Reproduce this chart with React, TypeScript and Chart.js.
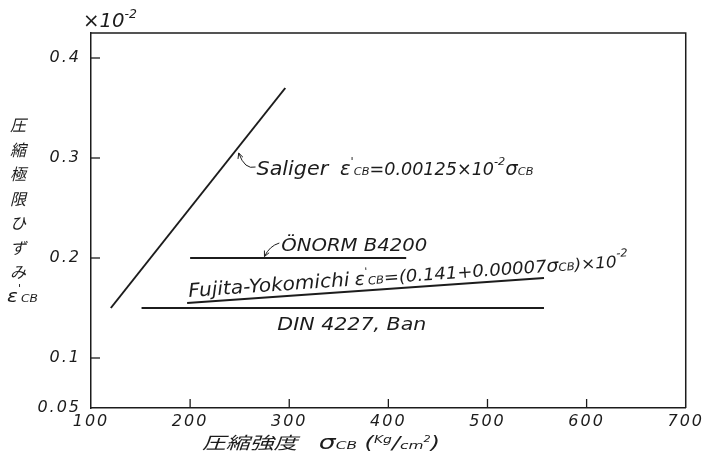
import React, { useEffect, useRef } from "react";
import { Chart, registerables } from "chart.js";

Chart.register(...registerables);

// Axis ranges and ticks
const xMin = 100;
const xMax = 700;
const yMin = 0.05;
const yMax = 0.425;
const xTicks = [100, 200, 300, 400, 500, 600, 700];
const xTickLabels = ["100", "200", "300", "400", "500", "600", "700"];
const yTicks = [0.05, 0.1, 0.2, 0.3, 0.4];
const yTickLabels = ["0.05", "0.1", "0.2", "0.3", "0.4"];

// Ultimate compressive strain (x10^-2) against compressive strength (kg/cm2)
const saligerX = [120, 296];
const saligerY = [0.15, 0.37];
const onormX = [200, 418];
const onormY = [0.2, 0.2];
const fujitaX = [197, 557];
const fujitaY = [0.155, 0.18];
const dinX = [151, 557];
const dinY = [0.15, 0.15];

const HAND = '"DejaVu Sans", sans-serif';
const CJK = '"Noto Sans CJK JP", sans-serif';
const INK = "#1c1c1c";

type Seg = { t: string; s: number; dy?: number; f?: string };

const toPoints = (xs: number[], ys: number[]) => xs.map((x, i) => ({ x, y: ys[i] }));

// Draws a run of mixed-size italic text, stretched to a given width
function drawRich(
  ctx: CanvasRenderingContext2D,
  segs: Seg[],
  x: number,
  y: number,
  width: number,
  angle = 0
) {
  ctx.save();
  (ctx as any).letterSpacing = "0px";
  let natural = 0;
  const widths = segs.map((g) => {
    ctx.font = `italic ${g.s}px ${g.f || HAND}`;
    const w = ctx.measureText(g.t).width;
    natural += w;
    return w;
  });
  ctx.translate(x, y);
  ctx.rotate(angle);
  ctx.scale(width / natural, 1);
  ctx.fillStyle = INK;
  ctx.textBaseline = "alphabetic";
  ctx.textAlign = "left";
  let cx = 0;
  segs.forEach((g, i) => {
    ctx.font = `italic ${g.s}px ${g.f || HAND}`;
    ctx.fillText(g.t, cx, g.dy || 0);
    cx += widths[i];
  });
  ctx.restore();
}

function drawArrow(
  ctx: CanvasRenderingContext2D,
  fx: number,
  fy: number,
  cx: number,
  cy: number,
  tx: number,
  ty: number
) {
  ctx.save();
  ctx.strokeStyle = INK;
  ctx.lineWidth = 1;
  ctx.beginPath();
  ctx.moveTo(fx, fy);
  ctx.quadraticCurveTo(cx, cy, tx, ty);
  ctx.stroke();
  const a = Math.atan2(ty - cy, tx - cx);
  ctx.beginPath();
  ctx.moveTo(tx - 6 * Math.cos(a - 0.45), ty - 6 * Math.sin(a - 0.45));
  ctx.lineTo(tx, ty);
  ctx.lineTo(tx - 6 * Math.cos(a + 0.45), ty - 6 * Math.sin(a + 0.45));
  ctx.stroke();
  ctx.restore();
}

const frameAndLabels = {
  id: "frameAndLabels",
  beforeDraw(chart: any) {
    (chart.ctx as any).letterSpacing = "2px";
  },
  afterDraw(chart: any) {
    const ctx: CanvasRenderingContext2D = chart.ctx;
    (ctx as any).letterSpacing = "0px";
    const { left, right, top, bottom } = chart.chartArea;
    const xs = chart.scales.x;
    const ys = chart.scales.y;
    const px = (v: number) => xs.getPixelForValue(v);
    const py = (v: number) => ys.getPixelForValue(v);

    // top and right frame lines
    ctx.save();
    ctx.strokeStyle = INK;
    ctx.lineWidth = 1.5;
    ctx.beginPath();
    ctx.moveTo(left, top);
    ctx.lineTo(right, top);
    ctx.lineTo(right, bottom);
    ctx.stroke();

    // inward tick marks
    ctx.lineWidth = 1.3;
    xTicks.forEach((v) => {
      if (v === xMin || v === xMax) return;
      ctx.beginPath();
      ctx.moveTo(px(v), bottom);
      ctx.lineTo(px(v), bottom - 9);
      ctx.stroke();
    });
    yTicks.forEach((v) => {
      if (v === yMin) return;
      ctx.beginPath();
      ctx.moveTo(left, py(v));
      ctx.lineTo(left + 9, py(v));
      ctx.stroke();
    });
    ctx.restore();

    // exponent above the y axis
    drawRich(ctx, [{ t: "×10", s: 19 }, { t: "-2", s: 12, dy: -9 }], left - 8, top - 6, 54);

    // Saliger
    drawRich(
      ctx,
      [
        { t: "Saliger", s: 20 },
        { t: "  ", s: 18 },
        { t: "ε", s: 19 },
        { t: "'", s: 11, dy: -10 },
        { t: "CB", s: 11 },
        { t: "=0.00125×10", s: 17 },
        { t: "-2", s: 11, dy: -10 },
        { t: "σ", s: 19 },
        { t: "CB", s: 11 },
      ],
      px(267),
      py(0.283),
      277
    );
    drawArrow(ctx, px(266), py(0.291), px(255), py(0.288), px(249), py(0.305));

    // ÖNORM
    drawRich(ctx, [{ t: "ÖNORM B4200", s: 17 }], px(292), py(0.207), 146);
    drawArrow(ctx, px(290), py(0.215), px(280), py(0.212), px(275), py(0.2015));

    // Fujita-Yokomichi, written along its line
    const fx0 = px(fujitaX[0]);
    const fy0 = py(fujitaY[0]);
    const ang = Math.atan2(py(fujitaY[1]) - fy0, px(fujitaX[1]) - fx0);
    drawRich(
      ctx,
      [
        { t: "Fujita-Yokomichi", s: 19 },
        { t: " ", s: 16 },
        { t: "ε", s: 18 },
        { t: "'", s: 10, dy: -10 },
        { t: "CB", s: 11 },
        { t: "=(0.141+0.00007", s: 17 },
        { t: "σ", s: 18 },
        { t: "CB", s: 11 },
        { t: ")×10", s: 16 },
        { t: "-2", s: 11, dy: -10 },
      ],
      fx0 + 2 + 6 * Math.sin(ang),
      fy0 - 6 * Math.cos(ang),
      441,
      ang
    );

    // DIN
    drawRich(ctx, [{ t: "DIN 4227, Ban", s: 18 }], px(288), py(0.128), 149);

    // x axis title
    drawRich(
      ctx,
      [
        { t: "圧縮強度", s: 17, f: CJK },
        { t: "   ", s: 16 },
        { t: "σ", s: 19 },
        { t: "CB", s: 11 },
        { t: " (", s: 17 },
        { t: "Kg", s: 10, dy: -6 },
        { t: "/", s: 17 },
        { t: "cm", s: 11 },
        { t: "2", s: 8, dy: -7 },
        { t: ")", s: 17 },
      ],
      202,
      bottom + 41,
      238
    );

    // y axis title, stacked vertically
    const chars = ["圧", "縮", "極", "限", "ひ", "ず", "み"];
    ctx.save();
    ctx.fillStyle = INK;
    ctx.textAlign = "center";
    ctx.textBaseline = "middle";
    ctx.font = `italic 16px ${CJK}`;
    chars.forEach((c, i) => ctx.fillText(c, 18, 125 + i * 24.5));
    ctx.restore();
    drawRich(
      ctx,
      [
        { t: "ε", s: 18 },
        { t: "'", s: 10, dy: -10 },
        { t: "CB", s: 11 },
      ],
      7,
      302,
      31
    );
  },
};

export default function App() {
  const ref = useRef<HTMLCanvasElement>(null);

  useEffect(() => {
    if (!ref.current) return;
    const line = (xs: number[], ys: number[], w: number) => ({
      data: toPoints(xs, ys),
      showLine: true,
      borderColor: INK,
      borderWidth: w,
      pointRadius: 0,
      fill: false,
    });
    const chart = new Chart(ref.current, {
      type: "scatter",
      data: {
        datasets: [
          { label: "Saliger", ...line(saligerX, saligerY, 2) },
          { label: "ÖNORM B4200", ...line(onormX, onormY, 2) },
          { label: "Fujita-Yokomichi", ...line(fujitaX, fujitaY, 2) },
          { label: "DIN 4227, Ban", ...line(dinX, dinY, 2) },
        ],
      },
      options: {
        animation: false,
        responsive: false,
        devicePixelRatio: 1,
        layout: { padding: { left: 0, top: 33, right: 13, bottom: 0 } },
        plugins: { legend: { display: false }, tooltip: { enabled: false } },
        scales: {
          x: {
            type: "linear",
            min: xMin,
            max: xMax,
            afterBuildTicks: (s: any) => {
              s.ticks = xTicks.map((v) => ({ value: v }));
            },
            afterFit: (s: any) => {
              s.height = 50;
            },
            ticks: {
              padding: 4,
              color: INK,
              font: { family: HAND, size: 16, style: "italic" },
              maxRotation: 0,
              callback: (_v: any, i: number) => xTickLabels[i],
            },
            grid: { drawOnChartArea: false, drawTicks: false },
            border: { display: true, color: INK, width: 1.5 },
          },
          y: {
            type: "linear",
            min: yMin,
            max: yMax,
            afterBuildTicks: (s: any) => {
              s.ticks = yTicks.map((v) => ({ value: v }));
            },
            afterFit: (s: any) => {
              s.width = 91;
            },
            ticks: {
              padding: 10,
              color: INK,
              font: { family: HAND, size: 16, style: "italic" },
              callback: (_v: any, i: number) => yTickLabels[i],
            },
            grid: { drawOnChartArea: false, drawTicks: false },
            border: { display: true, color: INK, width: 1.5 },
          },
        },
      },
      plugins: [frameAndLabels],
    } as any);
    return () => chart.destroy();
  }, []);

  return (
    <div style={{ position: "fixed", left: 0, top: 0, width: 705, height: 458, background: "#fff" }}>
      <canvas ref={ref} width={705} height={458} style={{ display: "block" }} />
    </div>
  );
}
